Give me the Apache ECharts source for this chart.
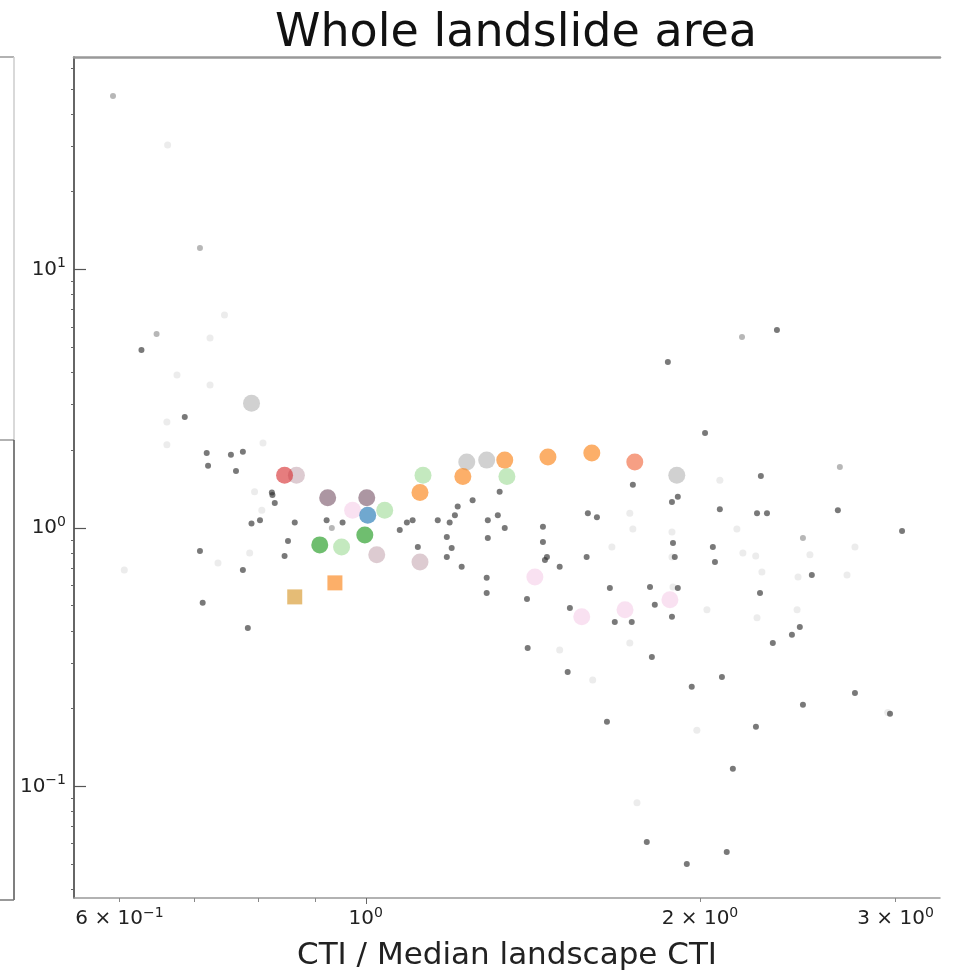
<!DOCTYPE html>
<html>
<head>
<meta charset="utf-8">
<script src="https://cdn.jsdelivr.net/npm/echarts@6/dist/echarts.min.js"></script>
<style>
html, body { margin: 0; padding: 0; background: #fff; }
#chart { width: 956px; height: 977px; }
</style>
</head>
<body>
<div id="chart"></div>
<script>
// axis ranges (real values, drawn on log10 scales)
var xRange = [0.546, 3.29];
var yRange = [0.037, 66.4];

// tick values and labels
var xLabelValues = [0.6, 1, 2, 3];
var xLabelTexts = [['6 × 10', '−1'], ['10', '0'], ['2 × 10', '0'], ['3 × 10', '0']];
var xMajorTicks = [1];
var xMinorTicks = [0.6, 0.7, 0.8, 0.9, 2, 3];
var yLabelValues = [0.1, 1, 10];
var yLabelTexts = [['10', '−1'], ['10', '0'], ['10', '1']];
var yMinorTicks = [0.04, 0.05, 0.06, 0.07, 0.08, 0.09, 0.2, 0.3, 0.4, 0.5, 0.6, 0.7, 0.8, 0.9,
                   2, 3, 4, 5, 6, 7, 8, 9, 20, 30, 40, 50, 60];

// points: [CTI ratio, y ratio]
var darkDots = [
  [0.628, 4.88], [0.687, 2.69], [0.719, 1.95], [0.721, 1.74], [0.756, 1.92], [0.775, 1.97],
  [0.764, 1.66], [0.824, 1.34], [0.828, 1.25], [0.803, 1.07], [0.789, 1.04], [0.863, 1.05],
  [0.851, 0.891], [0.845, 0.779], [0.709, 0.815], [0.775, 0.688], [0.713, 0.513], [0.783, 0.410],
  [0.823, 1.37], [0.922, 1.07], [0.953, 1.05], [1.073, 0.982], [1.089, 1.05], [1.102, 1.07],
  [1.114, 0.844], [1.183, 0.923], [1.183, 0.772], [1.190, 1.05], [1.161, 1.07], [1.248, 1.28],
  [1.320, 1.38], [1.210, 1.21], [1.203, 1.12], [1.288, 1.07], [1.315, 1.12], [1.334, 1.0],
  [1.288, 0.915], [1.195, 0.837], [1.444, 1.01], [1.444, 0.883], [1.585, 1.14], [1.615, 1.10],
  [1.740, 1.47], [1.910, 1.32], [1.887, 1.26], [1.581, 0.772], [1.456, 0.772], [1.220, 0.707],
  [1.285, 0.641], [1.285, 0.560], [1.397, 0.531], [1.495, 0.707], [1.527, 0.490], [1.659, 0.586],
  [1.803, 0.591], [1.821, 0.504], [1.910, 0.586], [1.887, 0.453], [1.736, 0.433], [1.676, 0.433],
  [1.898, 0.772], [1.450, 0.752], [1.399, 0.343], [1.520, 0.277], [1.810, 0.317], [1.966, 0.243],
  [1.649, 0.178], [2.346, 5.83], [1.871, 4.39], [2.021, 2.33], [2.269, 1.59], [2.084, 1.18],
  [2.251, 1.14], [2.298, 1.14], [2.662, 1.17], [3.041, 0.974], [1.891, 0.875], [2.054, 0.844],
  [2.063, 0.739], [2.522, 0.658], [2.265, 0.560], [2.326, 0.359], [2.420, 0.386], [2.460, 0.414],
  [2.093, 0.265], [2.758, 0.230], [2.476, 0.207], [2.966, 0.191], [2.246, 0.170], [2.141, 0.117],
  [1.791, 0.0610], [1.946, 0.0501], [2.114, 0.0558]
];
var greyDots = [
  [0.592, 46.9], [0.709, 12.1], [0.648, 5.63], [0.932, 1.0], [2.182, 5.48], [2.476, 0.915], [2.673, 1.72]
];
var faintDots = [
  [0.663, 30.3], [0.746, 6.67], [0.676, 3.91], [0.724, 5.43], [0.724, 3.57], [0.662, 2.57],
  [0.662, 2.10], [0.808, 2.13], [0.794, 1.38], [0.806, 1.17], [0.786, 0.800], [0.736, 0.732],
  [0.606, 0.688], [2.084, 1.53], [1.729, 1.14], [1.740, 0.991], [1.887, 0.965], [1.666, 0.844],
  [1.887, 0.772], [2.159, 0.991], [2.758, 0.844], [2.186, 0.800], [2.245, 0.779], [2.512, 0.787],
  [2.713, 0.658], [2.451, 0.646], [2.274, 0.676], [1.891, 0.591], [2.251, 0.449], [2.029, 0.482],
  [2.446, 0.482], [1.729, 0.359], [2.952, 0.193], [1.755, 0.0864], [1.987, 0.165], [1.495, 0.337],
  [1.601, 0.258]
];

// larger coloured markers
var redPts = [[0.845, 1.60]];
var brownPts = [[0.924, 1.31], [1.002, 1.31]];
var pinkPts = [[0.973, 1.17], [1.420, 0.646], [1.565, 0.453], [1.712, 0.482], [1.879, 0.527]];
var bluePts = [[1.004, 1.12]];
var lightGreenPts = [[1.040, 1.17], [0.951, 0.844], [1.126, 1.60], [1.340, 1.58]];
var greenPts = [[0.909, 0.860], [0.998, 0.939]];
var taupePts = [[1.023, 0.787], [1.119, 0.739], [0.866, 1.60]];
var orangePts = [[1.119, 1.37], [1.223, 1.58], [1.334, 1.83], [1.459, 1.88], [1.598, 1.95]];
var redOrangePts = [[1.747, 1.80]];
var orangeSquarePts = [[0.938, 0.613]];
var oliveSquarePts = [[0.863, 0.541]];
var greyPts = [[0.789, 3.04], [1.233, 1.80], [1.285, 1.83], [1.906, 1.60]];

var lg = Math.log10;
function toLog(pts) {
  return pts.map(function (p) { return [lg(p[0]), lg(p[1])]; });
}
function labelFor(values, texts) {
  return function (v) {
    for (var i = 0; i < values.length; i++) {
      if (Math.abs(lg(values[i]) - v) < 1e-6) {
        return '{b|' + texts[i][0] + '}{s|' + texts[i][1] + '}';
      }
    }
    return '';
  };
}
function dots(name, pts, color, size, symbol) {
  return {
    name: name,
    type: 'scatter',
    data: toLog(pts),
    symbol: symbol || 'circle',
    symbolSize: size,
    itemStyle: { color: color },
    silent: true
  };
}

var font = 'DejaVu Sans';
var rich = {
  b: { fontSize: 20, lineHeight: 26, color: '#222', fontFamily: font },
  s: { fontSize: 14, lineHeight: 14, color: '#222', fontFamily: font, verticalAlign: 'top' }
};

var chart = echarts.init(document.getElementById('chart'));
var xMin = lg(xRange[0]), xMax = lg(xRange[1]);
var yMin = lg(yRange[0]), yMax = lg(yRange[1]);

chart.setOption({
  animation: false,
  backgroundColor: '#fff',
  title: {
    text: 'Whole landslide area',
    left: 511,
    top: 6,
    textAlign: 'center',
    textStyle: { fontFamily: font, fontSize: 46, fontWeight: 'normal', color: '#111' }
  },
  grid: { left: 74, right: 16, top: 57, bottom: 79 },
  xAxis: [{
    type: 'value', min: xMin, max: xMax, position: 'bottom',
    name: 'CTI / Median landscape CTI', nameLocation: 'middle', nameGap: 42,
    nameTextStyle: { fontFamily: font, fontSize: 31, color: '#222' },
    axisLine: { show: true, onZero: false, lineStyle: { color: '#999', width: 1.5 } },
    axisTick: { show: true, length: 6, customValues: xMajorTicks.map(lg), lineStyle: { color: '#666' } },
    axisLabel: { customValues: xLabelValues.map(lg), margin: 8, formatter: labelFor(xLabelValues, xLabelTexts), rich: rich },
    splitLine: { show: false }
  }, {
    type: 'value', min: xMin, max: xMax, position: 'bottom',
    axisLine: { show: false, onZero: false },
    axisTick: { show: true, length: 4, customValues: xMinorTicks.map(lg), lineStyle: { color: '#888' } },
    axisLabel: { show: false },
    splitLine: { show: false }
  }, {
    type: 'value', min: xMin, max: xMax, position: 'top',
    axisLine: { show: true, onZero: false, lineStyle: { color: '#999', width: 2.5 } },
    axisTick: { show: false },
    axisLabel: { show: false },
    splitLine: { show: false }
  }],
  yAxis: [{
    type: 'value', min: yMin, max: yMax, position: 'left',
    axisLine: { show: true, onZero: false, lineStyle: { color: '#333', width: 1.5 } },
    axisTick: { show: true, inside: true, length: 12, customValues: yLabelValues.map(lg), lineStyle: { color: '#555', width: 1.2 } },
    axisLabel: { customValues: yLabelValues.map(lg), margin: 8, formatter: labelFor(yLabelValues, yLabelTexts), rich: rich },
    splitLine: { show: false }
  }, {
    type: 'value', min: yMin, max: yMax, position: 'left',
    axisLine: { show: false, onZero: false },
    axisTick: { show: true, length: 3, customValues: yMinorTicks.map(lg), lineStyle: { color: '#666' } },
    axisLabel: { show: false },
    splitLine: { show: false }
  }],
  graphic: [
    { type: 'line', shape: { x1: 0, y1: 57, x2: 14, y2: 57 }, style: { stroke: '#999', lineWidth: 1.5 } },
    { type: 'line', shape: { x1: 14, y1: 57, x2: 14, y2: 440 }, style: { stroke: '#ccc', lineWidth: 1.5 } },
    { type: 'line', shape: { x1: 0, y1: 440, x2: 14, y2: 440 }, style: { stroke: '#999', lineWidth: 1.5 } },
    { type: 'line', shape: { x1: 14, y1: 440, x2: 14, y2: 900 }, style: { stroke: '#555', lineWidth: 1.5 } },
    { type: 'line', shape: { x1: 0, y1: 900, x2: 14, y2: 900 }, style: { stroke: '#777', lineWidth: 1.5 } }
  ],
  series: [
    dots('faint', faintDots, 'rgba(150,150,150,0.22)', 7),
    dots('grey', greyDots, 'rgba(90,90,90,0.55)', 6),
    dots('dark', darkDots, 'rgba(50,50,50,0.82)', 6),
    dots('grey markers', greyPts, 'rgba(127,127,127,0.45)', 17),
    dots('pink', pinkPts, 'rgba(227,119,194,0.28)', 17),
    dots('taupe', taupePts, 'rgba(170,125,140,0.5)', 17),
    dots('light green', lightGreenPts, 'rgba(120,205,110,0.55)', 17),
    dots('green', greenPts, 'rgba(44,160,44,0.85)', 17),
    dots('brown', brownPts, 'rgba(125,90,110,0.8)', 17),
    dots('blue', bluePts, 'rgba(31,119,180,0.8)', 17),
    dots('red', redPts, 'rgba(214,39,40,0.75)', 17),
    dots('orange', orangePts, 'rgba(250,130,20,0.8)', 17),
    dots('red orange', redOrangePts, 'rgba(240,95,50,0.75)', 17),
    dots('orange square', orangeSquarePts, 'rgba(250,130,20,0.8)', 15, 'rect'),
    dots('olive square', oliveSquarePts, 'rgba(215,150,40,0.8)', 15, 'rect')
  ]
});
</script>
</body>
</html>
